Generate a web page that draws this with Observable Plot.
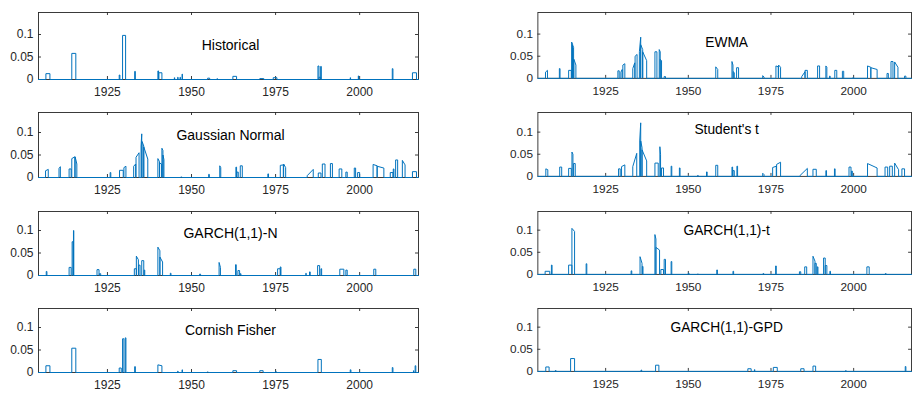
<!DOCTYPE html>
<html>
<head>
<meta charset="utf-8">
<script src="https://cdn.jsdelivr.net/npm/d3@7"></script>
<script src="https://cdn.jsdelivr.net/npm/@observablehq/plot@0.6"></script>
<style>
  html, body { margin: 0; padding: 0; background: #fff; overflow: hidden; }
  #wrap { position: relative; width: 913px; height: 393px; overflow: hidden; background: #fff; }
  #wrap > div { position: absolute; }
</style>
</head>
<body>
<div id="wrap"></div>
<script>
// ---- data: each entry = [start year, end year, value at start, value at end (optional)] ----
const xTicks = [1925, 1950, 1975, 2000];
const yTicks = [0, 0.05, 0.1];
const yearRange = [1904.5, 2017.5];

const historical = [
  [1906.7,1907.9,0.013],[1914.4,1915.6,0.058],[1928.5,1928.7,0.01],[1929.5,1930.4,0.098],
  [1933.1,1933.3,0.018],[1940.0,1940.2,0.019],[1940.3,1941.2,0.015],[1944.9,1945.0,0.004],
  [1945.9,1946.0,0.005],[1946.6,1946.7,0.005],[1947.2,1947.3,0.012],[1954.8,1955.4,0.003],
  [1957.6,1957.7,0.002],[1962.3,1963.4,0.007],[1970.3,1971.5,0.002],[1974.3,1975.4,0.004],
  [1987.6,1987.9,0.03],[1987.9,1988.4,0.005],[1988.4,1988.6,0.029],[1997.2,1997.3,0.004],
  [1999.6,1999.7,0.008],[2009.7,2009.9,0.024],[2015.7,2016.9,0.015]
];
const ewma = [
  [1906.8,1907.4,0.014,0.018],[1911.0,1911.2,0.022],[1913.8,1914.6,0.018],[1914.7,1915.0,0.082,0.078],
  [1915.0,1915.3,0.075,0.07],[1915.4,1916.0,0.043,0.03],[1928.7,1929.1,0.017],[1929.6,1930.0,0.014,0.02],
  [1930.2,1930.8,0.03,0.033],[1933.2,1933.8,0.022,0.035],[1933.9,1934.5,0.05,0.054],[1935.2,1935.6,0.06,0.093],
  [1935.6,1936.2,0.076,0.065],[1936.2,1937.4,0.06,0.04],[1939.9,1940.5,0.06],[1941.2,1941.5,0.065,0.06],
  [1941.5,1941.9,0.043,0.04],[1942.7,1943.1,0.004],[1958.3,1958.9,0.026,0.02],[1963.2,1963.5,0.038,0.03],
  [1963.6,1963.9,0.015,0.013],[1964.6,1965.2,0.024],[1972.5,1972.9,0.006,0.003],[1976.5,1977.2,0.028,0.026],
  [1977.3,1977.9,0.03,0.025],[1984.3,1985.3,0.004,0.015],[1985.3,1986.0,0.018],[1989.1,1989.7,0.028],
  [1991.6,1991.9,0.028,0.025],[1992.7,1992.9,0.005],[1994.3,1994.9,0.018],[1996.6,1997.0,0.016],
  [1999.8,2000.0,0.002],[2004.2,2005.2,0.028,0.025],[2005.2,2007.1,0.024,0.02],[2010.1,2010.5,0.011],
  [2011.3,2011.9,0.038],[2012.4,2013.4,0.037,0.025],[2015.4,2015.8,0.005]
];
const gaussian = [
  [1906.6,1907.4,0.015,0.018],[1910.6,1911.0,0.02,0.024],[1913.6,1914.2,0.019],[1914.4,1915.3,0.042,0.046],
  [1915.4,1915.9,0.046,0.03],[1925.8,1926.0,0.011],[1928.6,1929.7,0.016],[1929.9,1930.5,0.022,0.025],
  [1932.8,1933.4,0.025,0.03],[1933.5,1934.4,0.045,0.055],[1935.0,1935.2,0.07,0.097],[1935.3,1935.8,0.08,0.07],
  [1935.8,1937.0,0.068,0.041],[1940.0,1940.5,0.042,0.035],[1940.5,1941.1,0.032,0.03],[1941.2,1941.5,0.065,0.06],
  [1941.5,1941.8,0.05,0.04],[1946.8,1947.2,0.001],[1955.1,1955.3,0.007],[1958.4,1958.7,0.026,0.022],
  [1963.2,1963.4,0.023],[1963.5,1963.9,0.012],[1964.5,1965.1,0.026],[1972.7,1972.9,0.008],
  [1976.4,1977.3,0.027,0.028],[1977.4,1978.0,0.03,0.022],[1984.4,1986.2,0.004,0.018],[1987.7,1988.5,0.01],
  [1988.9,1989.7,0.03],[1991.3,1991.9,0.031],[1993.9,1994.7,0.019],[1995.9,1996.3,0.012],
  [1998.4,1998.8,0.021],[1999.4,2000.0,0.011],[2004.0,2005.2,0.029,0.026],[2005.2,2007.2,0.025,0.021],
  [2009.1,2009.9,0.011],[2010.0,2010.2,0.019],[2010.7,2011.3,0.039],[2012.7,2013.5,0.038,0.028],
  [2015.7,2016.9,0.013]
];
const studentT = [
  [1906.9,1907.5,0.017,0.015],[1911.1,1911.7,0.021],[1913.8,1914.6,0.018],[1914.8,1915.1,0.055,0.05],
  [1915.3,1915.8,0.029],[1928.9,1929.4,0.017],[1929.8,1930.8,0.022,0.026],[1933.2,1934.4,0.022,0.052],
  [1935.3,1935.6,0.08,0.121],[1935.6,1936.0,0.08,0.065],[1936.0,1937.4,0.06,0.035],[1939.9,1940.9,0.03],
  [1941.4,1941.6,0.067,0.05],[1941.9,1942.5,0.019],[1944.8,1945.0,0.023],[1947.3,1947.5,0.019],
  [1952.8,1953.0,0.002],[1955.5,1955.7,0.01],[1958.3,1958.9,0.025],[1963.2,1963.4,0.021],
  [1963.5,1963.9,0.013],[1964.7,1964.9,0.023],[1972.5,1972.9,0.007,0.004],[1975.5,1976.6,0.02,0.023],
  [1976.7,1977.9,0.027,0.032],[1983.8,1986.0,0.002,0.018],[1987.7,1988.7,0.016],[1991.6,1991.8,0.013],
  [1994.2,1994.4,0.017],[1998.6,1999.2,0.021],[1999.4,1999.6,0.012],[2004.2,2007.1,0.029,0.019],
  [2009.5,2010.3,0.021],[2010.9,2011.7,0.023],[2012.4,2013.6,0.03,0.015],[2014.6,2015.4,0.017]
];
const garchN = [
  [1906.8,1907.0,0.009],[1913.6,1914.2,0.018],[1914.5,1914.8,0.075],[1914.9,1915.0,0.1],
  [1921.9,1922.5,0.013],[1922.6,1923.0,0.004],[1933.0,1933.6,0.015],[1933.6,1934.2,0.043,0.035],
  [1934.3,1934.7,0.023],[1935.2,1935.8,0.033],[1935.9,1936.1,0.012],[1940.0,1940.6,0.063,0.055],
  [1940.6,1941.4,0.041,0.03],[1943.7,1943.9,0.005],[1952.4,1952.7,0.003],[1958.2,1958.6,0.029,0.018],
  [1963.1,1963.3,0.024],[1963.8,1964.3,0.011],[1964.5,1964.7,0.004],[1975.6,1976.4,0.015],
  [1976.4,1976.6,0.019],[1984.0,1984.1,0.005],[1985.1,1985.3,0.008],[1987.5,1988.1,0.022],
  [1988.5,1988.7,0.015],[1994.1,1995.3,0.014],[1995.9,1996.3,0.012],[2004.2,2004.8,0.014],
  [2016.1,2016.7,0.014]
];
const garchT = [
  [1906.7,1908.1,0.007],[1908.6,1908.8,0.021],[1913.8,1914.8,0.021],[1914.8,1915.6,0.104,0.097],
  [1919.1,1919.3,0.024],[1932.7,1932.9,0.008],[1935.4,1936.0,0.04,0.025],[1936.1,1936.3,0.018],
  [1939.9,1940.2,0.09,0.08],[1940.2,1941.3,0.061,0.055],[1941.7,1942.5,0.011],[1942.7,1943.1,0.034],
  [1944.8,1945.0,0.029],[1950.0,1950.2,0.003],[1952.8,1953.0,0.001],[1958.6,1958.8,0.01],
  [1963.5,1963.7,0.007],[1972.6,1972.8,0.002],[1976.4,1976.6,0.019],[1983.6,1984.0,0.006],
  [1985.2,1985.8,0.017],[1987.7,1988.3,0.041,0.03],[1988.3,1988.7,0.025],[1989.0,1989.2,0.017],
  [1990.9,1991.4,0.037],[1991.4,1991.9,0.02],[1992.8,1993.0,0.007],[2004.0,2004.7,0.017],
  [2009.6,2009.8,0.002]
];
const cornishFisher = [
  [1906.7,1907.9,0.015],[1914.4,1915.6,0.054],[1928.5,1929.1,0.01],[1929.5,1929.9,0.075],
  [1930.3,1930.5,0.077],[1933.1,1933.3,0.013],[1940.0,1941.2,0.017,0.015],[1945.9,1946.0,0.003],
  [1947.2,1947.3,0.006],[1954.6,1955.0,0.001],[1962.3,1963.4,0.004],[1970.3,1971.3,0.004],
  [1975.0,1975.2,0.002],[1987.6,1988.6,0.029],[1997.2,1997.4,0.006],[2009.7,2009.9,0.011],
  [2016.0,2016.1,0.004],[2016.5,2016.7,0.015]
];
const garchGPD = [
  [1906.9,1907.9,0.01],[1909.8,1910.0,0.002],[1914.4,1915.6,0.029],[1935.7,1935.9,0.003],
  [1940.1,1941.1,0.014],[1968.0,1969.0,0.006],[1970.0,1970.1,0.004],[1975.7,1976.9,0.009],
  [1984.0,1985.0,0.006],[1987.7,1988.5,0.012],[1997.6,1997.7,0.002],[2015.6,2015.8,0.011]
];

const panelTitles = ["Historical","EWMA","Gaussian Normal","Student's t","GARCH(1,1)-N","GARCH(1,1)-t","Cornish Fisher","GARCH(1,1)-GPD"];
const panelSeries = [historical, ewma, gaussian, studentT, garchN, garchT, cornishFisher, garchGPD];

// ---- layout (style, not data) ----
const boxTops = [12, 112, 211, 308];
const boxHeights = [67, 65, 64, 64];
const colLefts = [0, 500];
const titleDy = [33, 31, 23, 17, 22, 19, 22, 19];
const boxW = 380, mL = 38, mR = 2, mT = 2, mB = 24;
const pxPerUnit = 450;
const blue = "#0072BD", axisColor = "#262626";

function toPoints(segs) {
  const pts = [{t: yearRange[0], v: 0}];
  for (const [s, e, v0, v1] of segs) {
    const b = v1 === undefined ? v0 : v1;
    pts.push({t: s, v: 0}, {t: s, v: v0}, {t: e, v: b}, {t: e, v: 0});
  }
  pts.push({t: yearRange[1], v: 0});
  return pts;
}

const wrap = document.getElementById("wrap");
panelSeries.forEach((segs, i) => {
  const row = Math.floor(i / 2), col = i % 2;
  const h = boxHeights[row];
  const yMax = h / pxPerUnit;
  const chart = Plot.plot({
    width: mL + boxW + mR,
    height: mT + h + mB,
    marginLeft: mL, marginRight: mR, marginTop: mT, marginBottom: mB,
    style: {fontFamily: "Arial, 'Liberation Sans', Helvetica, sans-serif", fontSize: "12px", background: "white", color: axisColor},
    x: {domain: yearRange},
    y: {domain: [0, yMax]},
    marks: [
      Plot.frame({stroke: axisColor, strokeWidth: 0.9}),
      Plot.ruleX(xTicks, {x: d => d, stroke: axisColor, strokeWidth: 0.9, insetTop: h - 3}),
      Plot.ruleX(xTicks, {x: d => d, stroke: axisColor, strokeWidth: 0.9, insetBottom: h - 3}),
      Plot.ruleY(yTicks.slice(1), {y: d => d, stroke: axisColor, strokeWidth: 0.9, insetRight: boxW - 3}),
      Plot.ruleY(yTicks.slice(1), {y: d => d, stroke: axisColor, strokeWidth: 0.9, insetLeft: boxW - 3}),
      Plot.axisX(xTicks, {anchor: "bottom", tickSize: 0, tickPadding: 8, tickFormat: d => String(d), fontSize: 12, fill: axisColor, label: null}),
      Plot.axisY(yTicks, {anchor: "left", tickSize: 0, tickPadding: 5, tickFormat: d => String(d), fontSize: 12, fill: axisColor, label: null}),
      Plot.line(toPoints(segs), {x: "t", y: "v", stroke: blue, strokeWidth: 1}),
      Plot.text([panelTitles[i]], {frameAnchor: "top", text: d => d, dy: titleDy[i], dx: 2, lineAnchor: "middle", fontSize: 14, fill: "#000"})
    ]
  });
  const holder = document.createElement("div");
  holder.style.left = colLefts[col] + "px";
  holder.style.top = (boxTops[row] - mT) + "px";
  holder.appendChild(chart);
  wrap.appendChild(holder);
});
</script>
</body>
</html>
